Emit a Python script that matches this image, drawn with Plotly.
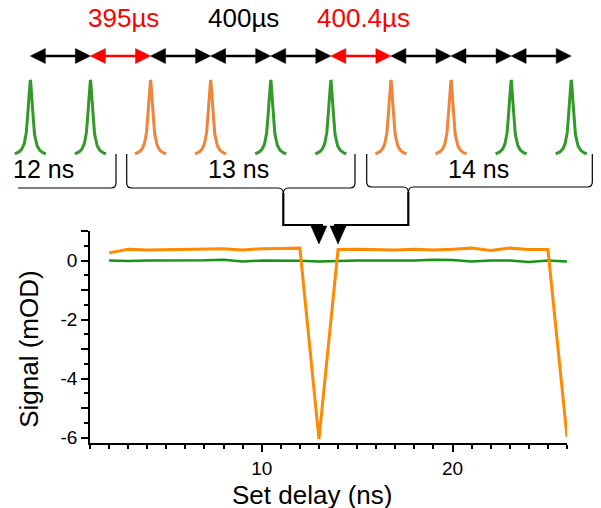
import numpy as np
import plotly.graph_objects as go

# ---------------- data ----------------
delay_ns = [2, 3, 4, 5, 6, 7, 8, 9, 10, 11, 12, 13, 14, 15, 16, 17, 18, 19, 20, 21, 22, 23, 24, 25, 26]
signal_orange = [0.26, 0.38, 0.36, 0.37, 0.40, 0.40, 0.40, 0.36, 0.40, 0.41, 0.42, -6.05, 0.37,
                 0.38, 0.37, 0.36, 0.38, 0.36, 0.38, 0.42, 0.34, 0.42, 0.37, 0.37, -5.97]
signal_green = [0.0, -0.02, 0.0, 0.0, 0.0, 0.01, 0.03, -0.03, 0.0, 0.0, -0.01, -0.03, -0.01,
                0.0, 0.0, 0.0, 0.0, 0.03, 0.02, -0.03, 0.0, 0.0, -0.05, 0.0, -0.03]

pulse_kinds = ["g", "g", "o", "o", "g", "g", "o", "o", "g", "g"]
interval_kinds = ["k", "r", "k", "k", "k", "r", "k", "k", "k"]
interval_labels = [(1, "395µs", "r"), (3, "400µs", "k"), (5, "400.4µs", "r")]
group_labels = ["12 ns", "13 ns", "14 ns"]
target_delays = [13, 14]

x_range = [1, 26]
y_range = [-6.18, 1]
y_tickvals = [1, 0, -1, -2, -3, -4, -5, -6]
y_ticktext = ["", "0", "", "-2", "", "-4", "", "-6"]
x_tickvals = [10, 20]

# ---------------- styling / layout ----------------
W, H = 601, 508
PX0, PX1 = 90, 567      # plot area left/right (px)
PY0, PY1 = 231, 443     # plot area top/bottom (px)
FONT = "Liberation Sans, Arial, sans-serif"
COL = {"g": "#339a2a", "o": "#ef843a", "k": "black", "r": "#ff0000"}
DATA_ORANGE = "#ff8a00"
DATA_GREEN = "#159415"

def data_to_px(xv):
    return PX0 + (xv - x_range[0]) / (x_range[1] - x_range[0]) * (PX1 - PX0)

fig = go.Figure()

# data traces
fig.add_trace(go.Scatter(x=delay_ns, y=signal_green, mode="lines",
                         line=dict(color=DATA_GREEN, width=2.5), xaxis="x", yaxis="y",
                         hoverinfo="skip", showlegend=False))
fig.add_trace(go.Scatter(x=delay_ns, y=signal_orange, mode="lines",
                         line=dict(color=DATA_ORANGE, width=3), xaxis="x", yaxis="y",
                         hoverinfo="skip", showlegend=False))

# ---------------- schematic (pixel axes x2/y2) ----------------
pulse_x0, pulse_dx = 30.3, 60.1
pulse_pos = [pulse_x0 + pulse_dx * k for k in range(len(pulse_kinds))]
dx = np.linspace(-15.5, 15.5, 121)
profile = 156 - 76 / (1 + (dx / 2.7) ** 2)   # Lorentzian pulse icon
for xp, kind in zip(pulse_pos, pulse_kinds):
    fig.add_trace(go.Scatter(x=xp + dx, y=profile, mode="lines",
                             line=dict(color=COL[kind], width=3),
                             xaxis="x2", yaxis="y2", hoverinfo="skip", showlegend=False))

shapes = []
ARROW_Y, HL, HW = 56, 15, 7.5
for i, kind in enumerate(interval_kinds):
    a, b = pulse_pos[i], pulse_pos[i + 1]
    c = COL[kind]
    shapes.append(dict(type="line", xref="x2", yref="y2", x0=a + HL - 1, x1=b - HL + 1,
                       y0=ARROW_Y, y1=ARROW_Y, line=dict(color=c, width=2.5)))
    shapes.append(dict(type="path", xref="x2", yref="y2",
                       path=f"M {a} {ARROW_Y} L {a+HL} {ARROW_Y-HW} L {a+HL} {ARROW_Y+HW} Z",
                       fillcolor=c, line=dict(color=c, width=0.5)))
    shapes.append(dict(type="path", xref="x2", yref="y2",
                       path=f"M {b} {ARROW_Y} L {b-HL} {ARROW_Y-HW} L {b-HL} {ARROW_Y+HW} Z",
                       fillcolor=c, line=dict(color=c, width=0.5)))

# braces
BL = dict(color="black", width=1.2)
shapes.append(dict(type="path", xref="x2", yref="y2", line=BL,
                   path="M 18 188 L 111 188 Q 116 188 116 183 L 116 154"))
cx13 = 283.3
shapes.append(dict(type="path", xref="x2", yref="y2", line=BL,
                   path=(f"M 126.7 154 L 126.7 183 Q 126.7 188 131.7 188 L {cx13-5} 188 "
                         f"Q {cx13} 188 {cx13} 194 Q {cx13} 188 {cx13+5} 188 "
                         f"L 350 188 Q 355 188 355 183 L 355 154")))
cx14 = 408.3
shapes.append(dict(type="path", xref="x2", yref="y2", line=BL,
                   path=(f"M 366.7 154 L 366.7 182 Q 366.7 187 371.7 187 L {cx14-5} 187 "
                         f"Q {cx14} 187 {cx14} 193 Q {cx14} 187 {cx14+5} 187 "
                         f"L 587.3 187 Q 592.3 187 592.3 182 L 592.3 154")))

# connectors to the data points
CY = 225
t13, t14 = data_to_px(target_delays[0]), data_to_px(target_delays[1])
shapes.append(dict(type="path", xref="x2", yref="y2", line=dict(color="black", width=2.2),
                   path=f"M {cx13} 193 L {cx13} {CY} L {t13+4} {CY}"))
shapes.append(dict(type="path", xref="x2", yref="y2", line=dict(color="black", width=2.2),
                   path=f"M {cx14} 192 L {cx14} {CY} L {t14-4} {CY}"))
for t in (t13, t14):
    shapes.append(dict(type="path", xref="x2", yref="y2", fillcolor="black",
                       line=dict(color="black", width=0.5),
                       path=f"M {t-8} {CY+1} L {t+8} {CY+1} L {t} {CY+19} Z"))

annotations = []
for idx, txt, kind in interval_labels:
    xc = (pulse_pos[idx] + pulse_pos[idx + 1]) / 2 + 3
    annotations.append(dict(x=xc, y=17.5, xref="x2", yref="y2", text=txt, showarrow=False,
                            font=dict(family=FONT, size=26, color=COL[kind]),
                            xanchor="center", yanchor="middle"))
for xc, txt in zip([43, 238, 478], group_labels):
    annotations.append(dict(x=xc, y=169, xref="x2", yref="y2", text=txt, showarrow=False,
                            font=dict(family=FONT, size=25, color="black"),
                            xanchor="center", yanchor="middle"))
# axis titles
annotations.append(dict(x=311.7, y=494.5, xref="x2", yref="y2", text="Set delay (ns)",
                        showarrow=False, font=dict(family=FONT, size=26, color="black"),
                        xanchor="center", yanchor="middle"))
annotations.append(dict(x=28.3, y=349.5, xref="x2", yref="y2", text="Signal (mOD)",
                        showarrow=False, textangle=-90,
                        font=dict(family=FONT, size=26, color="black"),
                        xanchor="center", yanchor="middle"))

fig.update_layout(
    template="none",
    width=W, height=H,
    margin=dict(l=0, r=0, t=0, b=0, pad=0, autoexpand=False),
    paper_bgcolor="white", plot_bgcolor="rgba(0,0,0,0)",
    font=dict(family=FONT, size=19, color="black"),
    showlegend=False,
    xaxis=dict(domain=[PX0 / W, PX1 / W], range=x_range, anchor="y", automargin=False,
               showline=True, linecolor="black", linewidth=1.5,
               ticks="outside", tickvals=x_tickvals, ticklen=7, tickwidth=1.5, tickcolor="black",
               minor=dict(dtick=1, tick0=0, ticks="outside", ticklen=4, tickwidth=1.5,
                          tickcolor="black", showgrid=False),
               showgrid=False, zeroline=False, tickfont=dict(family=FONT, size=19)),
    yaxis=dict(domain=[1 - PY1 / H, 1 - PY0 / H], range=y_range, anchor="x", automargin=False,
               showline=True, linecolor="black", linewidth=1.5,
               ticks="outside", tickvals=y_tickvals, ticktext=y_ticktext, ticklen=7,
               tickwidth=1.5, tickcolor="black",
               minor=dict(dtick=0.5, tick0=0, ticks="outside", ticklen=4, tickwidth=1.5,
                          tickcolor="black", showgrid=False),
               showgrid=False, zeroline=False, tickfont=dict(family=FONT, size=19)),
    xaxis2=dict(domain=[0, 1], range=[0, W], anchor="y2", visible=False, fixedrange=True,
                automargin=False),
    yaxis2=dict(domain=[0, 1], range=[H, 0], anchor="x2", visible=False, fixedrange=True,
                automargin=False),
    shapes=shapes,
    annotations=annotations,
)

fig.write_html("out.html", config={"displayModeBar": False},
               post_script="document.body.style.margin='0';document.body.style.padding='0';")
